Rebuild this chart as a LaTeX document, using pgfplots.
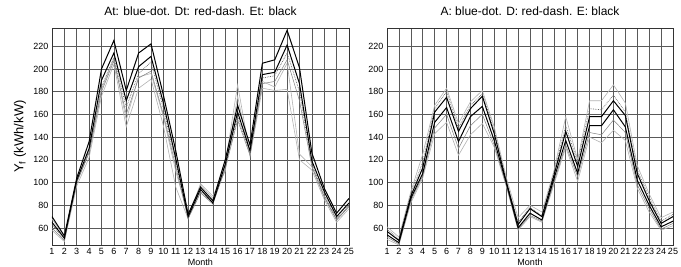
\documentclass[border=0pt]{standalone}
\usepackage{pgfplots}
\usepackage{pgfplotstable}
\pgfplotsset{compat=1.18}
\usepackage{fontspec}
\setmainfont{Liberation Sans}
\pgfplotstableread{
x  E1  E2  A1  A2  D1  D2
1  70  65  63  60  68  58
2  53  51  50  49  52  48
3  104 102 101 100 100 97
4  136 130 128 126 127 122
5  200 190 184 180 182 176
6  225 214 210 207 209 204
7  181 172 166 160 155 149
8  214 202 196 192 193 183
9  222 211 206 198 196 191
10 177 170 165 160 158 150
11 128 121 118 114 110 96
12 72  70  69  68  71  68
13 96  94  92  91  98  99
14 84  82  82  81  86  88
15 120 116 114 112 116 110
16 168 162 158 155 186 176
17 133 128 126 124 125 123
18 205 195 192 187 189 183
19 208 197 194 189 184 181
20 234 221 214 208 205 182
21 201 187 180 172 125 120
22 126 119 116 114 114 111
23 95  92  89  87  88  85
24 73  70  68  67  67  65
25 86  82  80  79  79  77
}\leftdata
\pgfplotstableread{
x  E1  E2  A1  A2  D1  D2
1  57  54  59  52  61  50
2  49  47  50  46  52  45
3  88  86  90  84  92  82
4  113 108 118 106 125 104
5  162 153 165 148 168 143
6  175 166 180 160 183 153
7  145 136 148 130 152 124
8  165 158 168 150 171 142
9  176 167 178 160 181 152
10 143 137 146 133 149 131
11 101 100 102 98  105 97
12 63  60  65  59  69  58
13 77  73  78  71  80  70
14 70  67  71  66  74  65
15 106 103 108 100 110 98
16 145 137 150 133 158 131
17 114 108 118 105 120 101
18 158 150 165 144 172 140
19 158 150 164 142 172 135
20 172 164 177 155 186 146
21 159 149 162 144 170 137
22 108 102 111 98  115 95
23 84  80  87  77  90  74
24 64  61  66  59  69  58
25 70  66  72  64  74  62
}\rightdata
\begin{document}
\begin{tikzpicture}
\path[use as bounding box] (0pt,-266pt) rectangle (681pt,0pt);
\pgfplotsset{
 myaxis/.style={
  scale only axis, height=217pt,
  anchor=south west,
  xmin=1, xmax=25, ymin=45, ymax=236,
  xtick={1,...,25}, ytick={60,80,...,220},
  grid=major, major grid style={black!65, line width=0.55pt},
  axis line style={black!80, line width=0.7pt},
  tick style={draw=none},
  ticklabel style={font=\fontsize{9}{10}\selectfont},
  /pgf/number format/assume math mode=true,
  title style={font=\fontsize{12}{14}\selectfont, yshift=2.5pt},
  xlabel={Month},
  xlabel style={font=\fontsize{9}{10}\selectfont, yshift=3pt},
  clip=true,
 },
 eline/.style={black, line width=1pt},
 aline/.style={black!60, densely dotted, line width=0.7pt},
 asline/.style={black!50, line width=0.5pt},
 dline/.style={black!30, line width=0.6pt},
}
\begin{axis}[myaxis, at={(52pt,-245pt)}, width=297pt,
  title={At: blue-dot. Dt: red-dash. Et: black},
  ylabel={Y$_\mathrm{f}$ (kWh/kW)},
  ylabel style={font=\fontsize{13}{15}\selectfont, at={(axis description cs:-0.108,0.5)}, anchor=center},
]
\addplot[dline] table[x=x,y=D2]{\leftdata};
\addplot[dline] table[x=x,y=D1]{\leftdata};
\addplot[asline] table[x=x,y=A2]{\leftdata};
\addplot[aline] table[x=x,y=A1]{\leftdata};
\addplot[eline] table[x=x,y=E2]{\leftdata};
\addplot[eline] table[x=x,y=E1]{\leftdata};
\end{axis}
\begin{axis}[myaxis, at={(387pt,-245pt)}, width=286pt,
  title={A: blue-dot. D: red-dash. E: black},
]
\addplot[dline] table[x=x,y=D2]{\rightdata};
\addplot[dline] table[x=x,y=D1]{\rightdata};
\addplot[asline] table[x=x,y=A2]{\rightdata};
\addplot[aline] table[x=x,y=A1]{\rightdata};
\addplot[eline] table[x=x,y=E2]{\rightdata};
\addplot[eline] table[x=x,y=E1]{\rightdata};
\end{axis}
\end{tikzpicture}
\end{document}
